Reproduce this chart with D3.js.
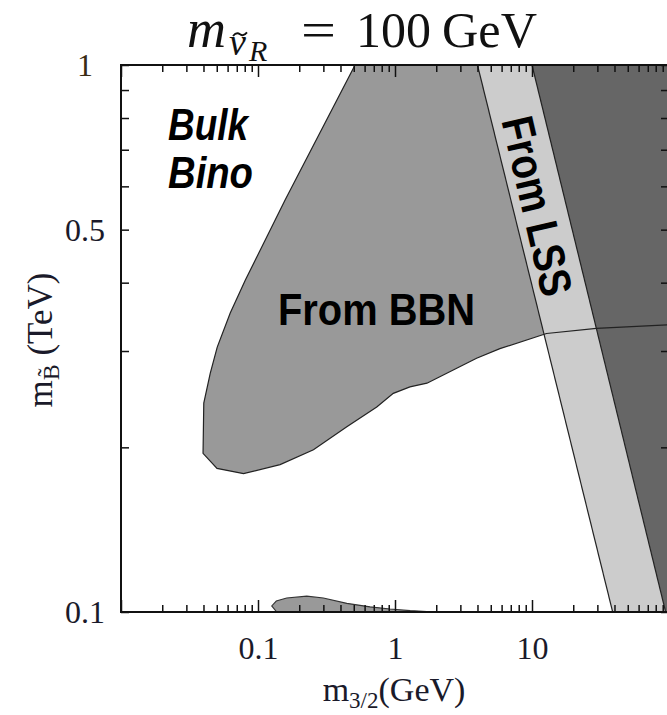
<!DOCTYPE html>
<html>
<head>
<meta charset="utf-8">
<script src="https://cdn.jsdelivr.net/npm/d3@7"></script>
<style>
  html, body { margin: 0; padding: 0; background: #fff; }
  svg { display: block; }
</style>
</head>
<body>
<svg id="chart" width="667" height="715"></svg>
<script>
// ---- axis tick labels ----
const xLabelTicks = [0.1, 1, 10];          // m_3/2 in GeV
const xMajorTicks = [0.01, 0.1, 1, 10, 100];
const yLabelTicks = [0.1, 0.5, 1];         // m_B~ in TeV
const yLabelText  = ["0.1", "0.5", "1"];

// ---- BBN-excluded region: boundary from the top edge, down the left side,
//      along the lower edge and across to the right edge ----
const bbnM32 = [0.511, 0.158, 0.0807, 0.0627, 0.0504, 0.0448, 0.0402, 0.0397,
                0.0502, 0.0784, 0.145, 0.254, 0.445, 0.736, 0.972, 1.286,
                1.711, 3.94, 5.83, 12.76, 29.5, 100];
const bbnMB  = [1.0, 0.567, 0.404, 0.352, 0.305, 0.273, 0.241, 0.195,
                0.183, 0.179, 0.186, 0.198, 0.218, 0.237, 0.251, 0.258,
                0.262, 0.291, 0.303, 0.323, 0.330, 0.335];

// ---- small BBN island sitting on the lower axis ----
const islandM32 = [0.137, 0.126, 0.136, 0.162, 0.227, 0.300, 0.445, 0.657, 0.920, 1.29, 1.96];
const islandMB  = [0.100, 0.1026, 0.1047, 0.1061, 0.1069, 0.1061, 0.1037, 0.1022, 0.1013, 0.1006, 0.100];

// ---- LSS band edges, given at m_B = 1 TeV and m_B = 0.1 TeV ----
const lssMB       = [1, 0.1];
const lssLeftM32  = [4.0, 38.8];
const lssRightM32 = [10.0, 94.5];

// ---- layout ----
const plot = { left: 121, right: 669, top: 65, bottom: 612 };
const svg = d3.select("#chart");

const x = d3.scaleLog().domain([0.01, 100]).range([plot.left, plot.right]);
const y = d3.scaleLog().domain([0.1, 1]).range([plot.bottom, plot.top]);

const serif = "'Liberation Serif', 'Times New Roman', serif";
const narrow = "'Liberation Sans Narrow', 'Arial Narrow', 'Liberation Sans', sans-serif";

svg.append("clipPath").attr("id", "plotClip")
  .append("rect")
  .attr("x", plot.left).attr("y", plot.top)
  .attr("width", plot.right - plot.left).attr("height", plot.bottom - plot.top);

const area = svg.append("g").attr("clip-path", "url(#plotClip)");
const line = d3.line().x(d => x(d[0])).y(d => y(d[1]));

// BBN region (filled out to the right edge; the LSS band is laid over it)
const bbnPts = bbnM32.map((m, i) => [m, bbnMB[i]]);
area.append("path")
  .attr("d", line(bbnPts.concat([[100, 1]])) + "Z")
  .attr("fill", "#999999");

// island
const islandPts = islandM32.map((m, i) => [m, islandMB[i]]);
area.append("path")
  .attr("d", line(islandPts) + "Z")
  .attr("fill", "#999999")
  .attr("stroke", "#333").attr("stroke-width", 1.1);

// LSS band (light) and the region beyond it (dark)
const leftEdge  = lssMB.map((b, i) => [lssLeftM32[i], b]);
const rightEdge = lssMB.map((b, i) => [lssRightM32[i], b]);
area.append("path")
  .attr("d", line(leftEdge.concat(rightEdge.slice().reverse())) + "Z")
  .attr("fill", "#cccccc");
area.append("path")
  .attr("d", line(rightEdge.concat([[100, 0.1], [100, 1]])) + "Z")
  .attr("fill", "#666666");

// boundary lines
area.append("path").attr("d", line(bbnPts))
  .attr("fill", "none").attr("stroke", "#222").attr("stroke-width", 1.2);
[leftEdge, rightEdge].forEach(e => {
  area.append("path").attr("d", line(e))
    .attr("fill", "none").attr("stroke", "#222").attr("stroke-width", 1.2);
});

// ---- ticks (inward on all four sides) ----
const xMinor = x.ticks().filter(v => !xMajorTicks.some(m => Math.abs(m - v) / m < 1e-6));
const yAll = y.ticks();

function tickGroup(axisFn, scale, values, size, transform) {
  const g = svg.append("g").attr("transform", transform)
    .call(axisFn(scale).tickValues(values).tickSize(size).tickFormat(""));
  g.select(".domain").remove();
  g.selectAll("line").attr("stroke", "#111").attr("stroke-width", 1.5);
  return g;
}
// bottom (pointing up) and top (pointing down)
tickGroup(d3.axisBottom, x, xMinor, -7, `translate(0,${plot.bottom})`);
tickGroup(d3.axisBottom, x, xMajorTicks, -12, `translate(0,${plot.bottom})`);
tickGroup(d3.axisTop, x, xMinor, -7, `translate(0,${plot.top})`);
tickGroup(d3.axisTop, x, xMajorTicks, -12, `translate(0,${plot.top})`);
// left (pointing right) and right (pointing left)
tickGroup(d3.axisLeft, y, yAll, -8, `translate(${plot.left},0)`);
tickGroup(d3.axisRight, y, yAll, -8, `translate(${plot.right},0)`);

// frame
svg.append("rect")
  .attr("x", plot.left).attr("y", plot.top)
  .attr("width", plot.right - plot.left).attr("height", plot.bottom - plot.top)
  .attr("fill", "none").attr("stroke", "#111").attr("stroke-width", 2);

// ---- tick labels ----
const xLab = svg.append("g").attr("transform", `translate(0,${plot.bottom})`)
  .call(d3.axisBottom(x).tickValues(xLabelTicks).tickSize(0).tickPadding(47)
        .tickFormat(d => d3.format("~g")(d)));
xLab.select(".domain").remove();
xLab.selectAll("text").attr("font-family", serif).attr("font-size", 32)
  .attr("fill", "#1a1a2a").attr("dy", 0);

const yLab = svg.append("g").attr("transform", `translate(${plot.left},0)`)
  .call(d3.axisLeft(y).tickValues(yLabelTicks).tickSize(0)
        .tickFormat((d, i) => yLabelText[i]));
yLab.select(".domain").remove();
yLab.selectAll("text").attr("font-family", serif).attr("font-size", 32)
  .attr("fill", (d) => d === 1 ? "#3a2c14" : "#1a1a2a")
  .attr("text-anchor", "middle").attr("x", -36)
  .attr("dy", "0.34em");

// ---- title: m_{ν̃_R} = 100 GeV ----
const title = svg.append("g").attr("font-family", serif).attr("fill", "#111");
title.append("text").attr("x", 187).attr("y", 47).attr("font-style", "italic")
  .attr("font-size", 54).text("m");
title.append("text").attr("x", 229).attr("y", 55).attr("font-style", "italic")
  .attr("font-size", 38).text("ν");
// tilde accent over the ν
title.append("path")
  .attr("d", "M233,36 q3.5,-4.5 7,-1.8 t7,-1.8")
  .attr("fill", "none").attr("stroke", "#111").attr("stroke-width", 1.8);
title.append("text").attr("x", 249).attr("y", 61).attr("font-style", "italic")
  .attr("font-size", 30).text("R");
title.append("text").attr("x", 301).attr("y", 47).attr("font-size", 50)
  .attr("textLength", 35).attr("lengthAdjust", "spacingAndGlyphs").text("=");
title.append("text").attr("x", 356).attr("y", 47).attr("font-size", 50).text("100");
title.append("text").attr("x", 442).attr("y", 47).attr("font-size", 50)
  .attr("textLength", 95).attr("lengthAdjust", "spacingAndGlyphs").text("GeV");

// ---- axis titles ----
const xt = svg.append("text").attr("font-family", serif).attr("fill", "#1a1a2a")
  .attr("x", 394).attr("y", 701).attr("text-anchor", "middle").attr("font-size", 34);
xt.append("tspan").text("m");
xt.append("tspan").attr("font-size", 23).attr("dy", 7).text("3/2");
xt.append("tspan").attr("dy", -7).text("(GeV)");

const yt = svg.append("text").attr("font-family", serif).attr("fill", "#1a1a2a")
  .attr("transform", "translate(52,340) rotate(-90)")
  .attr("text-anchor", "middle").attr("font-size", 35);
yt.append("tspan").text("m");
yt.append("tspan").attr("font-size", 24).attr("dy", 7).text("B\u0303");
yt.append("tspan").attr("dy", -7).text(" (TeV)");

// ---- region annotations ----
function note(txt, xx, yy, opts) {
  return svg.append("text")
    .attr("x", xx).attr("y", yy)
    .attr("font-family", narrow).attr("font-weight", "bold")
    .attr("font-style", opts.italic ? "italic" : "normal")
    .attr("font-size", opts.size)
    .attr("textLength", opts.len || null)
    .attr("lengthAdjust", opts.len ? "spacingAndGlyphs" : null)
    .attr("fill", "#000")
    .text(txt);
}
note("Bulk", 168, 140, { italic: true, size: 45, len: 80 });
note("Bino", 168, 188, { italic: true, size: 45, len: 85 });
note("From BBN", 278, 325, { size: 45, len: 197 });

svg.append("text")
  .attr("transform", "translate(537.5,206) rotate(76.9)")
  .attr("x", 0).attr("y", 16)
  .attr("text-anchor", "middle")
  .attr("font-family", narrow).attr("font-weight", "bold").attr("font-size", 45)
  .attr("textLength", 183).attr("lengthAdjust", "spacingAndGlyphs")
  .attr("fill", "#000")
  .text("From LSS");
</script>
</body>
</html>
